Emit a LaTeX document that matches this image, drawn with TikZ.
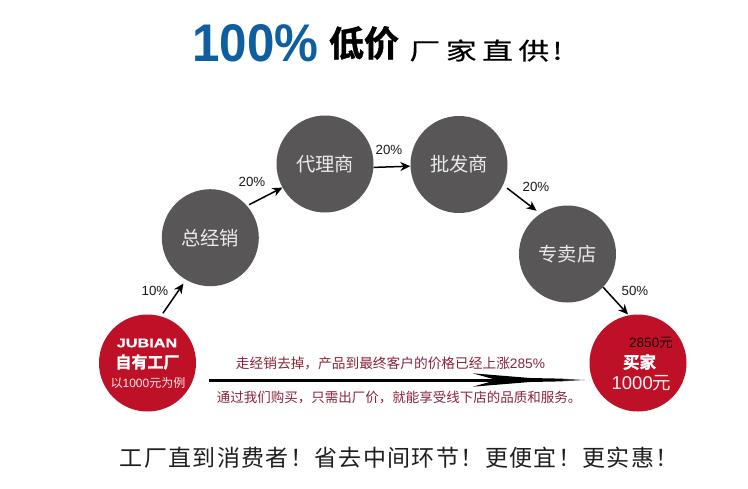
\documentclass[tikz,border=0pt]{standalone}
\usepackage{graphicx}
\usepackage{fontspec}
\setmainfont{Liberation Sans}
\newfontfamily\cjk{Noto Sans CJK SC}
\newfontfamily\cjkb[FakeBold=1.5]{Noto Sans CJK SC Bold}
\newfontfamily\cjkm[FakeBold=0.4]{Noto Sans CJK SC}
\newfontfamily\cjksp[LetterSpace=5.9]{Noto Sans CJK SC}
\newfontfamily\latinb{Liberation Sans Bold}
\newfontfamily\latinbb[FakeBold=1]{Liberation Sans Bold}
\definecolor{gcircle}{HTML}{585657}
\definecolor{redc}{HTML}{BE1128}
\definecolor{blueT}{HTML}{0F5E9F}
\definecolor{wine}{HTML}{8A2438}
\newcommand{\fs}[1]{\fontsize{#1}{#1}\selectfont}
\newcommand{\yuan}{{\cjk 元}}
\usetikzlibrary{arrows.meta}
\tikzset{
  gray circ/.style={circle,fill=gcircle,inner sep=0pt,minimum size=97pt,text=white!92!black,font=\cjk\fs{19.3}},
  red circ/.style={circle,fill=redc,inner sep=0pt,minimum size=97pt},
  pct/.style={inner sep=0pt,font=\fs{13.3},text=black!90},
  link/.style={-{Stealth[length=10pt,width=9pt]},line width=1.5pt,black},
  txt/.style={inner sep=0pt},
}
\begin{document}
\begin{tikzpicture}[x=1pt,y=-1pt]
\useasboundingbox (0,0) rectangle (748,488);
\fill[white] (0,0) rectangle (748,488);
% title
\node[txt,text=blueT,font=\latinb\fs{53}] (t1) at (255.5,43) {\scalebox{0.93}[1]{100\%}};
\node[txt,font=\cjkb\fs{35}] (t2) at (364,43) {低价};
\node[txt,font=\cjkm\fs{28}] (t3) at (486,50.5) {\scalebox{1.1}[0.85]{厂\hspace{5pt}家\hspace{5pt}直\hspace{5pt}供\hspace{3pt}!}};
% circles
\node[red circ] (factory) at (147.5,363) {};
\node[gray circ] (zjx) at (210.3,237.7) {总经销};
\node[gray circ] (dls) at (325,164) {代理商};
\node[gray circ] (pfs) at (459,164.5) {批发商};
\node[gray circ] (zmd) at (567.5,254) {专卖店};
\node[red circ] (buyer) at (638,363) {};
% factory text
\node[txt,text=white,font=\latinbb\fs{12.5}] (f1) at (147,343) {\scalebox{1.3}[1]{JUBIAN}};
\node[txt,text=white,font=\cjkb\fs{16}] (f2) at (147.5,362) {自有工厂};
\node[txt,text=white!90!redc,font=\fs{12}] (f3) at (148,383) {{\cjk 以}1000{\cjk 元为例}};
% buyer text
\node[txt,text=black!85!redc,font=\fs{13.5}] (b1) at (651,343) {2850\yuan};
\node[txt,text=white,font=\cjkb\fs{16.5}] (b2) at (639.5,362) {买家};
\node[txt,text=white!95!redc,font=\fs{18.5}] (b3) at (641.5,383) {1000\yuan};
% connectors
\draw[link,shorten <=3.5pt,shorten >=4.5pt] (factory.74.2) -- (zjx.240.7);
\draw[link,shorten <=2.3pt] (zjx.41.6) -- (dls.209.6);
\draw[link] (dls.-4) -- (pfs.182.9);
\draw[link,shorten <=5pt,shorten >=4.7pt] (pfs.-25.3) -- (zmd.124.1);
\draw[link,shorten >=1pt] (zmd.-43.2) -- (buyer.101.3);
% percentages
\node[pct] (p1) at (155,291) {10\%};
\node[pct] (p2) at (252,181.5) {20\%};
\node[pct] (p3) at (389,150) {20\%};
\node[pct] (p4) at (536,187) {20\%};
\node[pct] (p5) at (635,291) {50\%};
% long arrow
\coordinate (ls) at (209,380);
\coordinate (nk) at (496.7,380);
\coordinate (le) at (590,380);
\draw[line width=3pt,black] (ls) -- (nk);
\fill[black] (472.7,373.3) -- (530,378) -- (560,378.6) -- (560,381.4) -- (530,382) -- (472.7,386.7) -- (nk) -- cycle;
\shade[left color=black,right color=black!15] (560,378.6) -- (le) -- (560,381.4) -- cycle;
% captions
\node[txt,text=wine,font=\fs{13.7}] (c1) at (390.5,363) {{\cjk 走经销去掉，产品到最终客户的价格已经上涨}285\%};
\node[txt,text=wine,font=\cjk\fs{13.5}] (c2) at (399,397) {通过我们购买，只需出厂价，就能享受线下店的品质和服务。};
\node[txt,anchor=west,text=black!88,font=\cjksp\fs{23}] (c3) at (119.5,458) {工厂直到消费者！省去中间环节！更便宜！更实惠！};
\end{tikzpicture}
\end{document}
